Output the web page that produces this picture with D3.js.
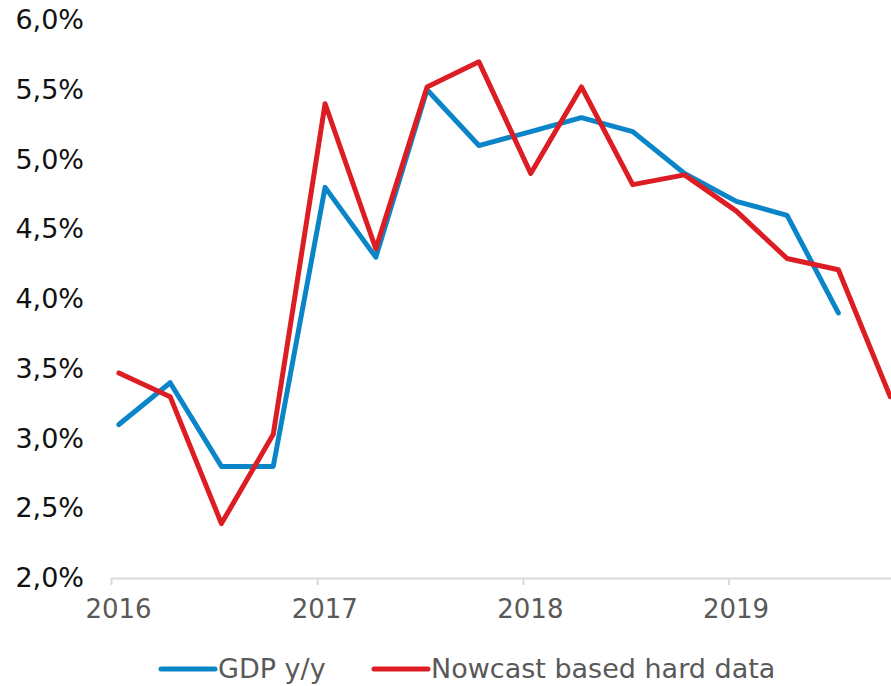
<!DOCTYPE html>
<html>
<head>
<meta charset="utf-8">
<script src="https://cdn.jsdelivr.net/npm/d3@7"></script>
<style>
  body { margin: 0; background: #fff; }
  #chart { width: 891px; height: 686px; overflow: hidden; }
  text { font-family: "DejaVu Sans", Verdana, sans-serif; }
</style>
</head>
<body>
<div id="chart"></div>
<script>
// quarterly observations
var dates = ["2016-01-15", "2016-04-15", "2016-07-15", "2016-10-15",
             "2017-01-15", "2017-04-15", "2017-07-15", "2017-10-15",
             "2018-01-15", "2018-04-15", "2018-07-15", "2018-10-15",
             "2019-01-15", "2019-04-15", "2019-07-15", "2019-10-15"];
var gdp = [3.1, 3.4, 2.8, 2.8, 4.8, 4.3, 5.5, 5.1, 5.2, 5.3, 5.2, 4.9, 4.7, 4.6, 3.9];
var nowcast = [3.47, 3.3, 2.39, 3.03, 5.4, 4.36, 5.52, 5.7, 4.9, 5.52, 4.82, 4.89, 4.63, 4.29, 4.21, 3.3];
var yTicks = [2.0, 2.5, 3.0, 3.5, 4.0, 4.5, 5.0, 5.5, 6.0];
var seriesNames = ["GDP y/y", "Nowcast based hard data"];
var seriesColors = ["#0a86c8", "#dc1e24"];

function drawChart() {
    var width = 891, height = 686;
    var parse = d3.timeParse("%Y-%m-%d");

    var svg = d3.select("#chart").append("svg")
      .attr("width", width)
      .attr("height", height);

    var x = d3.scaleTime()
      .domain([parse("2016-01-01"), parse("2019-10-20")])
      .range([111, 893]);

    var y = d3.scaleLinear()
      .domain([2, 6])
      .range([578, 20]);

    // x axis
    var xAxis = svg.append("g")
      .attr("transform", "translate(0,578)")
      .call(d3.axisBottom(x)
        .ticks(d3.timeYear.every(1))
        .tickFormat(d3.timeFormat("%Y"))
        .tickSizeInner(7)
        .tickSizeOuter(0)
        .tickPadding(15));
    xAxis.select(".domain").attr("stroke", "#d9d9d9").attr("stroke-width", 2);
    xAxis.selectAll(".tick line").attr("stroke", "#d9d9d9").attr("stroke-width", 2);
    xAxis.selectAll(".tick text")
      .attr("fill", "#595959")
      .attr("dx", 7)
      .style("font-size", "26px")
      .style("font-family", "'DejaVu Sans', Verdana, sans-serif");

    // y axis (labels only)
    var yAxis = svg.append("g")
      .attr("transform", "translate(84,0)")
      .call(d3.axisLeft(y)
        .tickValues(yTicks)
        .tickFormat(d => d.toFixed(1).replace(".", ",") + "%")
        .tickSize(0)
        .tickPadding(0));
    yAxis.select(".domain").remove();
    yAxis.selectAll(".tick text")
      .attr("fill", "#111")
      .style("font-size", "27px")
      .style("font-family", "'DejaVu Sans', Verdana, sans-serif");

    var line = d3.line()
      .x(d => x(d.date))
      .y(d => y(d.value));

    var series = [gdp, nowcast].map((vals, i) => ({
      name: seriesNames[i],
      color: seriesColors[i],
      values: vals.map((v, j) => ({date: parse(dates[j]), value: v}))
    }));

    svg.selectAll(".series")
      .data(series)
      .enter()
      .append("path")
      .attr("class", "series")
      .attr("fill", "none")
      .attr("stroke", d => d.color)
      .attr("stroke-width", 5)
      .attr("stroke-linejoin", "round")
      .attr("stroke-linecap", "round")
      .attr("d", d => line(d.values));

    // legend
    var legendX = [161, 374];
    var legend = svg.selectAll(".legend")
      .data(series)
      .enter()
      .append("g")
      .attr("class", "legend")
      .attr("transform", (d, i) => "translate(" + legendX[i] + ",669)");
    legend.append("line")
      .attr("x1", 0).attr("x2", 54)
      .attr("stroke", d => d.color)
      .attr("stroke-width", 5)
      .attr("stroke-linecap", "round");
    legend.append("text")
      .attr("x", 57)
      .attr("y", 9)
      .attr("fill", "#595959")
      .style("font-size", "27px")
      .text(d => d.name);
}

drawChart();
</script>
</body>
</html>
